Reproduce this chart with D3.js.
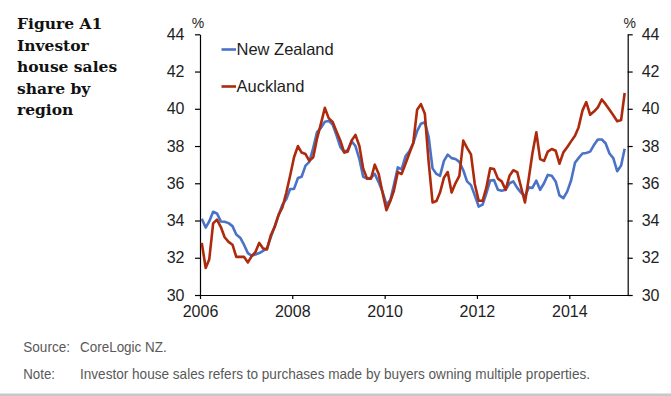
<!DOCTYPE html>
<html>
<head>
<meta charset="utf-8">
<script src="https://cdn.jsdelivr.net/npm/d3@7"></script>
<style>
  body { margin: 0; background: #fff; }
  svg { display: block; }
</style>
</head>
<body>
<div id="chart"></div>
<script>
// monthly, Jan 2006 - Mar 2015
const startMonth = new Date(2006, 0, 1);
const endMonth = new Date(2015, 3, 1);

const newZealand = [
  34.1, 33.62, 33.95, 34.47, 34.38, 33.95, 33.93, 33.86, 33.7, 33.25, 33.08, 32.7,
  32.25, 32.1, 32.18, 32.25, 32.37, 32.5, 33.1, 33.7, 34.3, 34.85, 35.15, 35.69,
  35.7, 36.28, 36.35, 36.95, 37.15, 37.9, 38.75, 38.98, 39.3, 39.35, 39.15, 38.6,
  37.95, 37.66, 37.8, 38.25, 38.0, 37.3, 36.35, 36.25, 36.3, 36.5, 36.05, 35.55,
  34.85, 35.1, 35.9, 36.85, 36.75, 37.45, 37.72, 38.15, 38.8, 39.2, 39.28, 38.5,
  36.8, 36.5, 36.4, 37.2, 37.54, 37.35, 37.3, 37.15, 36.7, 36.1, 35.9, 35.35,
  34.75, 34.85, 35.45, 36.15, 36.17, 35.65, 35.6, 35.65, 36.0, 36.1, 35.75, 35.5,
  35.3, 35.78, 35.75, 36.14, 35.65, 36.0, 36.45, 36.4, 36.1, 35.35, 35.2, 35.55,
  36.15, 37.1, 37.35, 37.6, 37.63, 37.7, 38.05, 38.35, 38.35, 38.15, 37.6, 37.35,
  36.65, 36.95, 37.85,
];

const auckland = [
  32.8, 31.45, 31.9, 33.85, 34.05, 33.65, 33.1, 32.85, 32.7, 32.05, 32.05, 32.05,
  31.75, 32.1, 32.3, 32.8, 32.5, 32.45, 33.2, 33.65, 34.3, 34.7, 35.5, 36.4,
  37.4, 38.0, 37.65, 37.57, 37.2, 37.4, 38.4, 39.2, 40.05, 39.5, 39.3, 38.8,
  38.3, 37.66, 37.7, 38.3, 38.6, 38.0, 36.8, 36.25, 36.25, 37.0, 36.5, 35.5,
  34.55, 35.05, 35.6, 36.6, 36.5, 37.05, 37.6, 38.15, 39.95, 40.25, 39.73, 37.15,
  34.97, 35.05, 35.5, 36.3, 36.6, 35.5, 36.0, 36.4, 38.29, 37.9, 37.55, 35.96,
  35.06, 35.06, 35.75, 36.8, 36.77, 36.25, 36.1, 35.65, 36.4, 36.7, 36.6, 35.8,
  34.97, 36.3, 37.6, 38.74, 37.3, 37.2, 37.7, 37.84, 37.75, 37.05, 37.66, 37.93,
  38.25, 38.55, 39.0, 39.9, 40.36, 39.68, 39.85, 40.08, 40.5, 40.25, 39.95, 39.65,
  39.33, 39.4, 40.85,
];

const seriesNames = ['New Zealand', 'Auckland'];
const seriesColors = ['#4a72c6', '#ae2a0c'];
const yearTicks = [2006, 2008, 2010, 2012, 2014];
const yTicks = [30, 32, 34, 36, 38, 40, 42, 44];
const titleLines = ['Figure A1', 'Investor', 'house sales', 'share by', 'region'];
const sourceText = ['Source:', 'CoreLogic NZ.'];
const noteText = [
  'Note:',
  'Investor house sales refers to purchases made by buyers owning multiple properties.',
];

const width = 671;
const height = 396;
const margin = { top: 34.3, right: 43.3, bottom: 101, left: 200 };
const axisColor = '#000';
const labelColor = '#1e1e1e';
const font = "'Liberation Sans', Arial, sans-serif";

const months = d3.timeMonth.range(startMonth, endMonth);
const rows = months.map((m, i) => ({
  date: d3.timeDay.offset(m, 14),
  nz: newZealand[i],
  akl: auckland[i],
}));

const svg = d3
  .select('#chart')
  .append('svg')
  .attr('width', width)
  .attr('height', height);

const xScale = d3
  .scaleTime()
  .domain([new Date(2006, 0, 1), new Date(2015, 3, 8)])
  .range([margin.left, width - margin.right]);

const yScale = d3
  .scaleLinear()
  .domain([30, 44])
  .range([height - margin.bottom, margin.top]);

// title
svg
  .append('g')
  .selectAll('text')
  .data(titleLines)
  .join('text')
  .attr('x', 17)
  .attr('y', (d, i) => 29.3 + i * 21.4)
  .style('font-family', "'DejaVu Serif', serif")
  .style('font-weight', 700)
  .style('font-size', '15.5px')
  .attr('fill', '#111')
  .text((d) => d);

// axes
const xAxis = svg
  .append('g')
  .attr('transform', `translate(0,${height - margin.bottom})`)
  .call(
    d3
      .axisBottom(xScale)
      .tickValues(yearTicks.map((y) => new Date(y, 0, 1)))
      .tickFormat(d3.timeFormat('%Y'))
      .tickSize(4)
      .tickSizeOuter(0)
      .tickPadding(6.5)
  );

const yAxisLeft = svg
  .append('g')
  .attr('transform', `translate(${margin.left},0)`)
  .call(d3.axisLeft(yScale).tickValues(yTicks).tickSize(5).tickSizeOuter(0).tickPadding(10.5));

const yAxisRight = svg
  .append('g')
  .attr('transform', `translate(${width - margin.right},0)`)
  .call(d3.axisRight(yScale).tickValues(yTicks).tickSize(5).tickSizeOuter(0).tickPadding(9));

[xAxis, yAxisLeft, yAxisRight].forEach((ax) => {
  ax.selectAll('path').attr('stroke', axisColor).attr('stroke-width', 1.2);
  ax.selectAll('line').attr('stroke', axisColor).attr('stroke-width', 1.2);
  ax.selectAll('text')
    .attr('fill', labelColor)
    .style('font-family', font)
    .style('font-size', '16px');
});

// % units
svg
  .selectAll('.unit')
  .data([margin.left - 2, width - margin.right + 2])
  .join('text')
  .attr('class', 'unit')
  .attr('x', (d) => d)
  .attr('y', 28)
  .attr('text-anchor', 'middle')
  .attr('fill', labelColor)
  .style('font-family', font)
  .style('font-size', '14px')
  .text('%');

// lines
const lines = svg.append('g');
['nz', 'akl'].forEach((key, i) => {
  lines
    .append('path')
    .datum(rows)
    .attr('fill', 'none')
    .attr('stroke', seriesColors[i])
    .attr('stroke-width', 2.6)
    .attr('stroke-linejoin', 'round')
    .attr('d', d3.line().x((d) => xScale(d.date)).y((d) => yScale(d[key])));
});

// legend
const legend = svg
  .append('g')
  .selectAll('g')
  .data(seriesNames)
  .join('g')
  .attr('transform', (d, i) => `translate(221.5,${49.5 + i * 37})`);

legend
  .append('line')
  .attr('x1', 0)
  .attr('x2', 14.5)
  .attr('stroke', (d, i) => seriesColors[i])
  .attr('stroke-width', 2.6);

legend
  .append('text')
  .attr('x', 15)
  .attr('dy', '0.36em')
  .attr('fill', labelColor)
  .style('font-family', font)
  .style('font-size', '16.5px')
  .text((d) => d);

// source / note
const foot = svg.append('g').attr('fill', '#595959').style('font-family', font).style('font-size', '15px');
const footRows = [
  { y: 352.3, parts: sourceText, widths: [46.7, 86.7] },
  { y: 379, parts: noteText, widths: [31.7, 510] },
];
footRows.forEach((r) => {
  foot
    .append('text')
    .attr('x', 23.3)
    .attr('y', r.y)
    .attr('textLength', r.widths[0])
    .attr('lengthAdjust', 'spacingAndGlyphs')
    .text(r.parts[0]);
  foot
    .append('text')
    .attr('x', 80)
    .attr('y', r.y)
    .attr('textLength', r.widths[1])
    .attr('lengthAdjust', 'spacingAndGlyphs')
    .text(r.parts[1]);
});

svg
  .append('rect')
  .attr('x', 0)
  .attr('y', 393.5)
  .attr('width', width)
  .attr('height', 2.5)
  .attr('fill', '#c8c8c8');
</script>
</body>
</html>
